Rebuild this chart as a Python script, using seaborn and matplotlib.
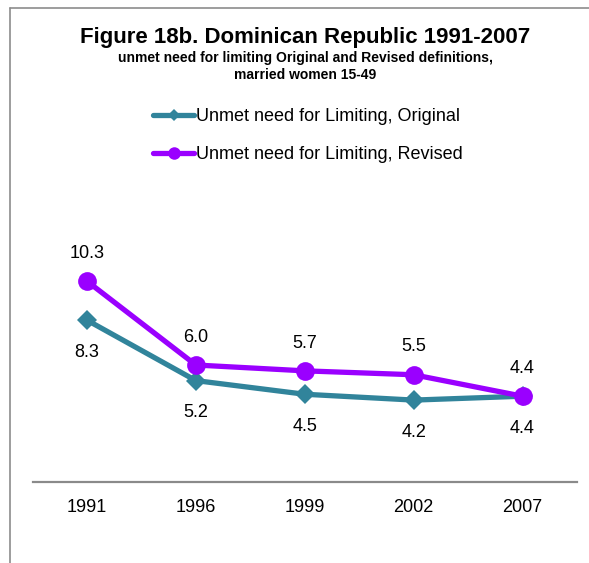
import matplotlib
matplotlib.use("Agg")
import matplotlib.pyplot as plt
from matplotlib.lines import Line2D
import seaborn as sns
import pandas as pd

years = ["1991", "1996", "1999", "2002", "2007"]
original = [8.3, 5.2, 4.5, 4.2, 4.4]
revised = [10.3, 6.0, 5.7, 5.5, 4.4]
series_names = ["Unmet need for Limiting, Original", "Unmet need for Limiting, Revised"]
colors = ["#31849B", "#9A00FF"]

sns.set_style("white")
plt.rcParams['font.family'] = ['Liberation Sans', 'DejaVu Sans']
plt.rcParams['text.color'] = 'black'
plt.rcParams['xtick.color'] = 'black'
plt.rcParams['xtick.labelcolor'] = 'black'

df = pd.DataFrame({
    "year": years * 2,
    "value": original + revised,
    "series": [series_names[0]] * len(years) + [series_names[1]] * len(years),
})

fig = plt.figure(figsize=(5.89, 5.63), dpi=100)
ax = fig.add_axes([32.5 / 589, 1 - 482 / 563, (577 - 32.5) / 589, 234 / 563])

sns.pointplot(data=df, x="year", y="value", hue="series", order=years,
              hue_order=series_names, palette=colors, markers=["D", "o"],
              linestyles=["-", "-"], ax=ax, errorbar=None,
              markersize=0, linewidth=3.8)
for line, ms in zip(ax.lines[:2], [10.5, 13.5]):
    line.set_markersize(ms)
    line.set_markeredgewidth(0)
    line.set_solid_capstyle("round")

ax.set_xlim(-0.5, 4.5)
ax.set_ylim(0, 12)
ax.set_xlabel("")
ax.set_ylabel("")
ax.set_yticks([])
for s in ["top", "right", "left"]:
    ax.spines[s].set_visible(False)
ax.spines["bottom"].set_color("#8a8a8a")
ax.spines["bottom"].set_linewidth(1.6)
ax.tick_params(axis="x", length=0, pad=12.5, labelsize=13, labelcolor="black")

for i, (o, r) in enumerate(zip(original, revised)):
    ax.annotate(f"{r:.1f}", (i, r), xytext=(0, 20), textcoords="offset points",
                ha="center", va="center", fontsize=13, color="black")
    ax.annotate(f"{o:.1f}", (i, o), xytext=(0, -23), textcoords="offset points",
                ha="center", va="center", fontsize=13, color="black")

if ax.get_legend() is not None:
    ax.get_legend().remove()

handles = [
    Line2D([], [], color=colors[0], lw=3.8, marker="D", markersize=6, markeredgewidth=0),
    Line2D([], [], color=colors[1], lw=3.8, marker="o", markersize=9, markeredgewidth=0),
]
leg = fig.legend(handles, series_names, loc="center", bbox_to_anchor=(308 / 589, 1 - 135.5 / 563),
                 frameon=False, fontsize=13, handlelength=2.3, handletextpad=0.12,
                 labelspacing=1.15)
for t in leg.get_texts():
    t.set_color("black")

fig.text(305 / 589, 1 - 38 / 563, "Figure 18b. Dominican Republic 1991-2007",
         ha="center", va="center", fontsize=16, fontweight="bold", color="black")
fig.text(305 / 589, 1 - 58 / 563, "unmet need for limiting Original and Revised definitions,",
         ha="center", va="center", fontsize=10, fontweight="bold", color="black")
fig.text(305 / 589, 1 - 75 / 563, "married women 15-49",
         ha="center", va="center", fontsize=10, fontweight="bold", color="black")

fig.add_artist(Line2D([9.5 / 589, 1], [1 - 8 / 563, 1 - 8 / 563], color="#8c8c8c", lw=1.2,
                      transform=fig.transFigure))
fig.add_artist(Line2D([9.5 / 589, 9.5 / 589], [0, 1 - 8 / 563], color="#8c8c8c", lw=1.2,
                      transform=fig.transFigure))

fig.savefig("out.png", dpi=100)
